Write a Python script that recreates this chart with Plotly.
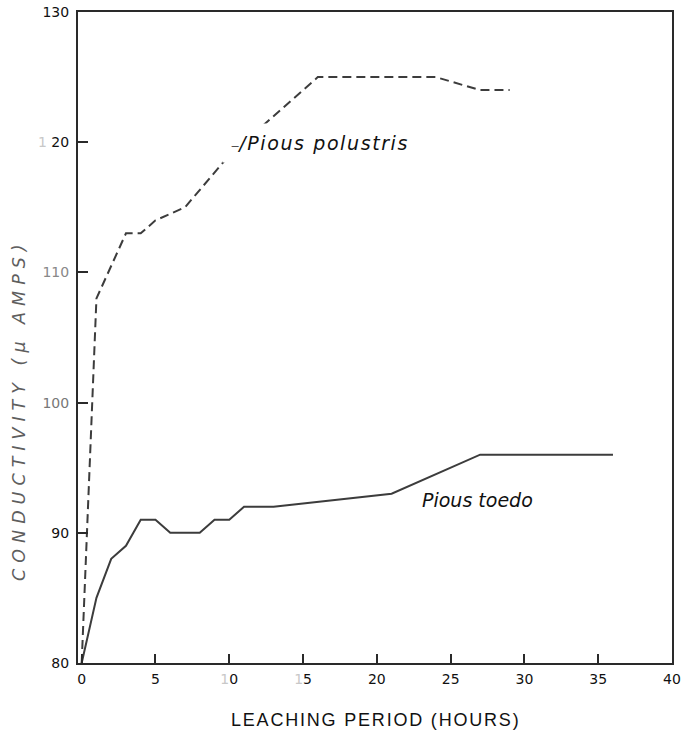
import plotly.graph_objects as go

# Leaching period (hours) and conductivity (micro-amps) for each species
hours_palustris = [0, 1, 3, 4, 5, 7, 10, 16, 24, 27, 29]
cond_palustris = [80, 108, 113, 113, 114, 115, 119, 125, 125, 124, 124]

hours_taeda = [0, 1, 2, 3, 4, 5, 6, 8, 9, 10, 11, 13, 21, 27, 36]
cond_taeda = [80, 85, 88, 89, 91, 91, 90, 90, 91, 91, 92, 92, 93, 96, 96]

x_ticks = [0, 5, 10, 15, 20, 25, 30, 35, 40]
x_tick_text = ["0", "5", "<span style='color:#c8c8c8'>1</span>0",
               "<span style='color:#c8c8c8'>1</span>5", "20", "25", "30", "35", "40"]
y_ticks = [80, 90, 100, 110, 120, 130]
y_tick_text = ["80", "90", "<span style='color:#777'>100</span>",
               "<span style='color:#888'>110</span>",
               "<span style='color:#c8c8c8'>1</span> 20", "130"]

LINE = "#3c3c3c"
FRAME = "#2a2a2a"
LABEL_FONT = dict(family="DejaVu Sans", size=19, color="#111", style="italic")

fig = go.Figure()
fig.add_trace(go.Scatter(
    x=hours_palustris, y=cond_palustris, mode="lines",
    line=dict(color=LINE, width=2, dash="9px,5px"), name="Pious polustris",
))
fig.add_trace(go.Scatter(
    x=hours_taeda, y=cond_taeda, mode="lines",
    line=dict(color=LINE, width=2), name="Pious toedo",
))

# Species labels placed beside their curves
fig.add_annotation(
    x=9.5, y=119.95, xref="x", yref="y",
    text=("<span style='font-size:13px;font-style:normal;color:#444'>\u2012</span>"
          "<span style='letter-spacing:1.6px'>/Pious polustris</span>"),
    showarrow=False, xanchor="left", yanchor="middle",
    font=LABEL_FONT, bgcolor="white", borderpad=8,
)
fig.add_annotation(
    x=22.9, y=92.5, xref="x", yref="y", text="Pious toedo",
    showarrow=False, xanchor="left", yanchor="middle", font=LABEL_FONT,
)

# Axis titles
fig.add_annotation(
    x=-0.099, y=0.389, xref="paper", yref="paper", textangle=-90,
    text="<span style='letter-spacing:6px'>CONDUCTIVITY (\u03bc AMPS)</span>",
    showarrow=False, xanchor="center", yanchor="middle",
    font=dict(family="DejaVu Sans", size=17.5, color="#5e5e5e", style="italic"),
)
fig.add_annotation(
    x=0.5, y=-0.0876, xref="paper", yref="paper",
    text="<span style='letter-spacing:1.8px'>LEACHING PERIOD (HOURS)</span>",
    showarrow=False, xanchor="center", yanchor="middle",
    font=dict(family="Liberation Sans", size=18, color="#111"),
)

fig.update_layout(
    width=681, height=735,
    margin=dict(l=78, r=9, t=12, b=72, autoexpand=False),
    paper_bgcolor="white", plot_bgcolor="white",
    showlegend=False,
    font=dict(family="DejaVu Sans", size=14, color="#111"),
    xaxis=dict(
        range=[-0.25, 40], tickvals=x_ticks, ticktext=x_tick_text,
        showgrid=False, zeroline=False, showline=True, mirror=True,
        linecolor=FRAME, linewidth=2, ticks="inside", ticklen=9,
        tickcolor=FRAME, tickwidth=1.5, ticklabelstandoff=2, automargin=False,
    ),
    yaxis=dict(
        range=[80, 130], tickvals=y_ticks, ticktext=y_tick_text,
        showgrid=False, zeroline=False, showline=True, mirror=True,
        linecolor=FRAME, linewidth=2, ticks="inside", ticklen=10,
        tickcolor=FRAME, tickwidth=1.5, ticklabelstandoff=4, automargin=False,
    ),
)

fig.write_html("out.html")
